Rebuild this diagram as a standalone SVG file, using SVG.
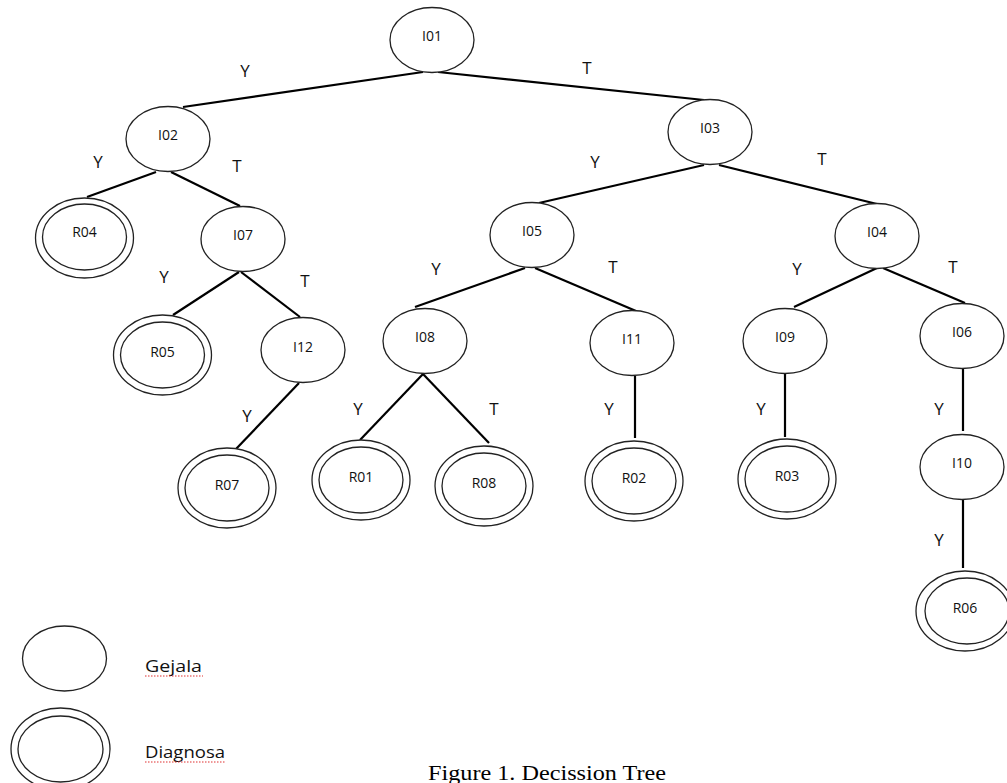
<svg xmlns="http://www.w3.org/2000/svg" width="1007" height="783" viewBox="0 0 1007 783">
<style>
.n{fill:#fff;stroke:#222;stroke-width:1.3}
.lbl{font-family:"Open Sans","Noto Sans",sans-serif;font-size:14px;fill:#111;text-anchor:middle}
.e{stroke:#000;stroke-width:2.2;fill:none;stroke-linecap:butt}
.el{font-family:"Open Sans","Noto Sans",sans-serif;font-size:17px;fill:#111;text-anchor:middle}
.lg{font-family:"Open Sans","Noto Sans",sans-serif;font-size:17px;fill:#111}
.sp{stroke:#e03030;stroke-width:1.2;stroke-dasharray:1.5 1.5;fill:none}
.cap{font-family:"Liberation Serif","Times New Roman",serif;font-size:20px;fill:#000}
</style>
<rect width="1007" height="783" fill="#fff"/>
<g id="connectors">
<line class="e" x1="423" y1="72" x2="183" y2="107"/>
<line class="e" x1="438" y1="72" x2="704" y2="100"/>
<line class="e" x1="156" y1="172" x2="87" y2="197"/>
<line class="e" x1="171" y1="172" x2="240" y2="206"/>
<line class="e" x1="239" y1="272" x2="173" y2="315"/>
<line class="e" x1="241" y1="272" x2="300" y2="317"/>
<line class="e" x1="704" y1="165" x2="539" y2="203"/>
<line class="e" x1="719" y1="165" x2="877" y2="204"/>
<line class="e" x1="525" y1="268" x2="415" y2="307"/>
<line class="e" x1="535" y1="268" x2="636" y2="311"/>
<line class="e" x1="877" y1="268" x2="794" y2="307"/>
<line class="e" x1="883" y1="268" x2="965" y2="303"/>
<line class="e" x1="299" y1="383" x2="236" y2="449"/>
<line class="e" x1="423" y1="374" x2="360" y2="440"/>
<line class="e" x1="423" y1="374" x2="489" y2="443"/>
<line class="e" x1="635" y1="376" x2="635" y2="438"/>
<line class="e" x1="785" y1="372" x2="785" y2="437"/>
<line class="e" x1="963" y1="368" x2="963" y2="431"/>
<line class="e" x1="963" y1="500" x2="963" y2="568"/>
<text class="el" x="245" y="77">Y</text>
<text class="el" x="587" y="74">T</text>
<text class="el" x="98" y="168">Y</text>
<text class="el" x="237" y="172">T</text>
<text class="el" x="164" y="283">Y</text>
<text class="el" x="305" y="287">T</text>
<text class="el" x="595" y="168">Y</text>
<text class="el" x="822" y="165">T</text>
<text class="el" x="436" y="275">Y</text>
<text class="el" x="613" y="273">T</text>
<text class="el" x="797" y="275">Y</text>
<text class="el" x="953" y="273">T</text>
<text class="el" x="247" y="422">Y</text>
<text class="el" x="358" y="415">Y</text>
<text class="el" x="494" y="415">T</text>
<text class="el" x="609" y="415">Y</text>
<text class="el" x="761" y="415">Y</text>
<text class="el" x="939" y="415">Y</text>
<text class="el" x="939" y="546">Y</text>
</g>
<g id="I01"><ellipse class="n" cx="432" cy="40" rx="42" ry="32.5"/><text class="lbl" x="432" y="41">I01</text></g>
<g id="I02"><ellipse class="n" cx="168" cy="139" rx="42" ry="32.5"/><text class="lbl" x="168" y="140">I02</text></g>
<g id="R04"><ellipse class="n" cx="84.5" cy="238" rx="49" ry="40"/><ellipse class="n" cx="84.5" cy="237" rx="42" ry="33"/><text class="lbl" x="84.5" y="237">R04</text></g>
<g id="I07"><ellipse class="n" cx="243" cy="239" rx="42" ry="32.5"/><text class="lbl" x="243" y="240">I07</text></g>
<g id="I03"><ellipse class="n" cx="710" cy="132" rx="42" ry="32.5"/><text class="lbl" x="710" y="133">I03</text></g>
<g id="I05"><ellipse class="n" cx="532" cy="235" rx="42" ry="32.5"/><text class="lbl" x="532" y="236">I05</text></g>
<g id="I04"><ellipse class="n" cx="877" cy="236" rx="42" ry="32.5"/><text class="lbl" x="877" y="237">I04</text></g>
<g id="R05"><ellipse class="n" cx="162.5" cy="355" rx="49" ry="40"/><ellipse class="n" cx="162.5" cy="355" rx="42" ry="33"/><text class="lbl" x="162.5" y="357">R05</text></g>
<g id="I12"><ellipse class="n" cx="303" cy="350" rx="42" ry="32.5"/><text class="lbl" x="303" y="352">I12</text></g>
<g id="I08"><ellipse class="n" cx="425" cy="341" rx="42" ry="32.5"/><text class="lbl" x="425" y="342">I08</text></g>
<g id="I11"><ellipse class="n" cx="632" cy="343" rx="42" ry="32.5"/><text class="lbl" x="632" y="344">I11</text></g>
<g id="I09"><ellipse class="n" cx="785" cy="341" rx="42" ry="32.5"/><text class="lbl" x="785" y="342">I09</text></g>
<g id="I06"><ellipse class="n" cx="962" cy="336" rx="42" ry="32.5"/><text class="lbl" x="962" y="337">I06</text></g>
<g id="R07"><ellipse class="n" cx="227" cy="488" rx="49" ry="40"/><ellipse class="n" cx="227" cy="488" rx="42" ry="33"/><text class="lbl" x="227" y="490">R07</text></g>
<g id="R01"><ellipse class="n" cx="361" cy="480" rx="49" ry="40"/><ellipse class="n" cx="361" cy="480" rx="42" ry="33"/><text class="lbl" x="361" y="482">R01</text></g>
<g id="R08"><ellipse class="n" cx="484" cy="486" rx="49" ry="40"/><ellipse class="n" cx="484" cy="486" rx="42" ry="33"/><text class="lbl" x="484" y="488">R08</text></g>
<g id="R02"><ellipse class="n" cx="634" cy="481" rx="49" ry="40"/><ellipse class="n" cx="634" cy="481" rx="42" ry="33"/><text class="lbl" x="634" y="483">R02</text></g>
<g id="R03"><ellipse class="n" cx="787" cy="479" rx="49" ry="40"/><ellipse class="n" cx="787" cy="479" rx="42" ry="33"/><text class="lbl" x="787" y="481">R03</text></g>
<g id="I10"><ellipse class="n" cx="962" cy="467" rx="42" ry="32.5"/><text class="lbl" x="962" y="468">I10</text></g>
<g id="R06"><ellipse class="n" cx="965" cy="611" rx="49" ry="40"/><ellipse class="n" cx="967" cy="611" rx="42" ry="33"/><text class="lbl" x="965" y="613">R06</text></g>
<g id="legend">
<ellipse class="n" cx="64.5" cy="658.5" rx="42" ry="32.5"/>
<text class="lg" x="145" y="672" textLength="57" lengthAdjust="spacingAndGlyphs">Gejala</text>
<line class="sp" x1="145" y1="676" x2="203" y2="676"/>
<ellipse class="n" cx="60.5" cy="749" rx="49.5" ry="41"/>
<ellipse class="n" cx="60.5" cy="749" rx="42.5" ry="33"/>
<text class="lg" x="145" y="758" textLength="80" lengthAdjust="spacingAndGlyphs">Diagnosa</text>
<line class="sp" x1="145" y1="762" x2="225" y2="762"/>
</g>
<text class="cap" x="428" y="780" textLength="238" lengthAdjust="spacingAndGlyphs">Figure 1. Decission Tree</text>
</svg>
